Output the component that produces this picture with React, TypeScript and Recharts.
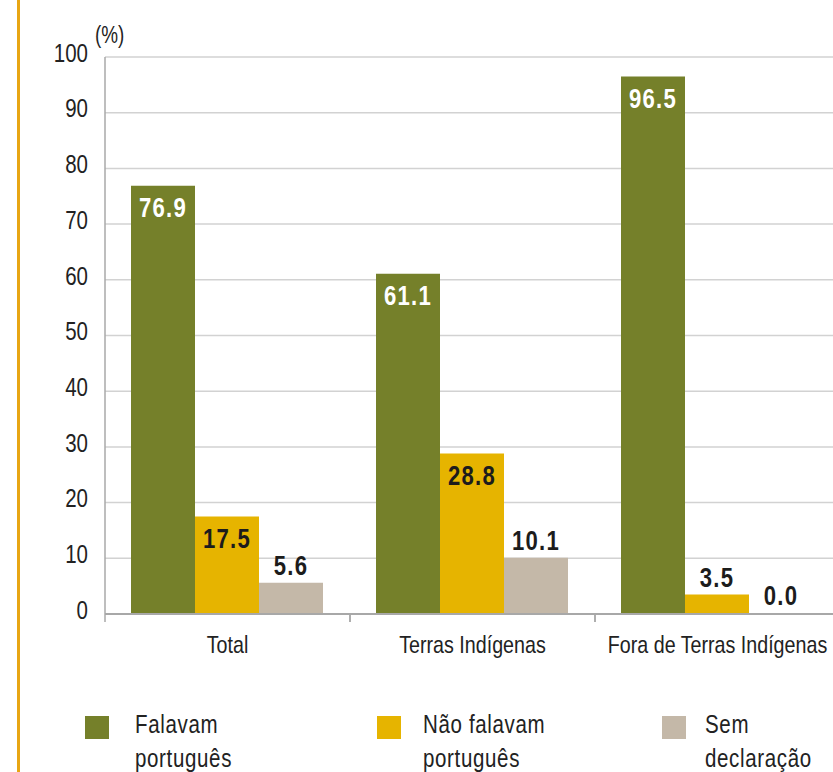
import {
  BarChart,
  Bar,
  XAxis,
  YAxis,
  CartesianGrid,
  Legend,
  LabelList,
} from "recharts";

const categories = ["Total", "Terras Indígenas", "Fora de Terras  Indígenas"];
const falavam = [76.9, 61.1, 96.5];
const naoFalavam = [17.5, 28.8, 3.5];
const semDeclaracao = [5.6, 10.1, 0.0];
const yTicks = [0, 10, 20, 30, 40, 50, 60, 70, 80, 90, 100];

const legendItems = [
  { lines: ["Falavam", "português"], color: "#75802A", left: 85, textLeft: 50 },
  { lines: ["Não falavam", "português"], color: "#E6B400", left: 377, textLeft: 46 },
  { lines: ["Sem", "declaração"], color: "#C4B8A8", left: 662, textLeft: 43 },
];

const data = categories.map((name, i) => ({
  name,
  falavam: falavam[i],
  naoFalavam: naoFalavam[i],
  semDeclaracao: semDeclaracao[i],
}));

const FONT = "'Liberation Sans', Arial, sans-serif";
const NARROW = 0.82;

// condensed text: Liberation Sans squeezed horizontally
function NText(props: {
  x: number;
  y: number;
  anchor?: "start" | "middle" | "end";
  size: number;
  bold?: boolean;
  fill?: string;
  spacing?: number;
  children: any;
}) {
  return (
    <text
      transform={`translate(${props.x},${props.y}) scale(${NARROW},1)`}
      textAnchor={props.anchor || "middle"}
      dominantBaseline="central"
      fontFamily={FONT}
      fontWeight={props.bold ? "bold" : "normal"}
      fontSize={props.size}
      letterSpacing={props.spacing || 0}
      fill={props.fill || "#222"}
    >
      {props.children}
    </text>
  );
}

const makeLabel = (kind: "green" | "yellow" | "grey") => (props: any) => {
  const { x, y, width, height, value } = props;
  const cx = Number(x) + Number(width) / 2;
  const top = Number(y);
  const h = Number(height);
  const inside = kind === "green" || (kind === "yellow" && h > 40);
  const ty = inside ? top + 22 : top - 17;
  return (
    <NText
      x={cx}
      y={ty}
      size={27}
      bold
      spacing={1.5}
      fill={kind === "green" ? "#ffffff" : "#1c1c1c"}
    >
      {Number(value).toFixed(1)}
    </NText>
  );
};

const XTick = (props: any) => {
  const { x, y, payload } = props;
  const half = payload && payload.offset ? payload.offset : 122.5;
  return (
    <g>
      <line x1={x - half} x2={x - half} y1={y} y2={y + 8} stroke="#a8a8a8" strokeWidth={1.5} />
      <line x1={x + half} x2={x + half} y1={y} y2={y + 8} stroke="#a8a8a8" strokeWidth={1.5} />
      <NText x={x} y={y + 31} size={24}>
        {payload.value}
      </NText>
    </g>
  );
};

const YTick = (props: any) => {
  const { x, y, payload } = props;
  return (
    <NText x={x} y={y - 4} anchor="end" size={25}>
      {payload.value}
    </NText>
  );
};

const LegendContent = () => (
  <div style={{ position: "relative", width: 860, height: 72 }}>
    {legendItems.map((item) => (
      <div key={item.lines[0]} style={{ position: "absolute", left: item.left, top: 0 }}>
        <div
          style={{
            position: "absolute",
            left: 0,
            top: 5,
            width: 24,
            height: 23,
            background: item.color,
          }}
        />
        <div
          style={{
            position: "absolute",
            left: item.textLeft,
            top: -4,
            fontFamily: FONT,
            fontSize: 25,
            lineHeight: "34px",
            letterSpacing: 0.8,
            color: "#222",
            whiteSpace: "nowrap",
            transform: `scale(${NARROW},1)`,
            transformOrigin: "left top",
          }}
        >
          {item.lines.map((l) => (
            <div key={l}>{l}</div>
          ))}
        </div>
      </div>
    ))}
  </div>
);

export default function App() {
  return (
    <div
      style={{
        position: "absolute",
        left: 0,
        top: 0,
        width: 833,
        height: 772,
        overflow: "hidden",
        background: "#fff",
      }}
    >
      <div
        style={{
          position: "absolute",
          left: 17,
          top: 0,
          width: 3,
          height: 772,
          background: "#E8A614",
        }}
      />
      <div
        style={{
          position: "absolute",
          left: 95,
          top: 22,
          fontFamily: FONT,
          fontSize: 23,
          color: "#222",
          transform: `scale(${NARROW},1)`,
          transformOrigin: "left top",
        }}
      >
        (%)
      </div>
      <BarChart
        width={860}
        height={772}
        data={data}
        margin={{ top: 57, right: 20, bottom: 118, left: 0 }}
        barGap={0}
        barCategoryGap={26}
      >
        <CartesianGrid vertical={false} stroke="#d2d2d2" strokeWidth={1.5} />
        <XAxis
          dataKey="name"
          height={40}
          tickSize={0}
          tickMargin={0}
          tickLine={false}
          axisLine={{ stroke: "#a8a8a8", strokeWidth: 2 }}
          tick={<XTick />}
          interval={0}
        />
        <YAxis
          width={105}
          domain={[0, 100]}
          ticks={yTicks}
          tickSize={0}
          tickMargin={17}
          tickLine={false}
          axisLine={{ stroke: "#a8a8a8", strokeWidth: 1.5 }}
          tick={<YTick />}
          interval={0}
        />
        <Legend
          layout="horizontal"
          verticalAlign="middle"
          align="center"
          wrapperStyle={{ top: 711, left: 0, width: 860 }}
          content={<LegendContent />}
        />
        <Bar dataKey="falavam" fill="#75802A" isAnimationActive={false}>
          <LabelList dataKey="falavam" content={makeLabel("green")} />
        </Bar>
        <Bar dataKey="naoFalavam" fill="#E6B400" isAnimationActive={false}>
          <LabelList dataKey="naoFalavam" content={makeLabel("yellow")} />
        </Bar>
        <Bar
          dataKey="semDeclaracao"
          fill="#C4B8A8"
          minPointSize={(v: any) => (Number(v) === 0 ? 1 : 0)}
          isAnimationActive={false}
        >
          <LabelList dataKey="semDeclaracao" content={makeLabel("grey")} />
        </Bar>
      </BarChart>
    </div>
  );
}
